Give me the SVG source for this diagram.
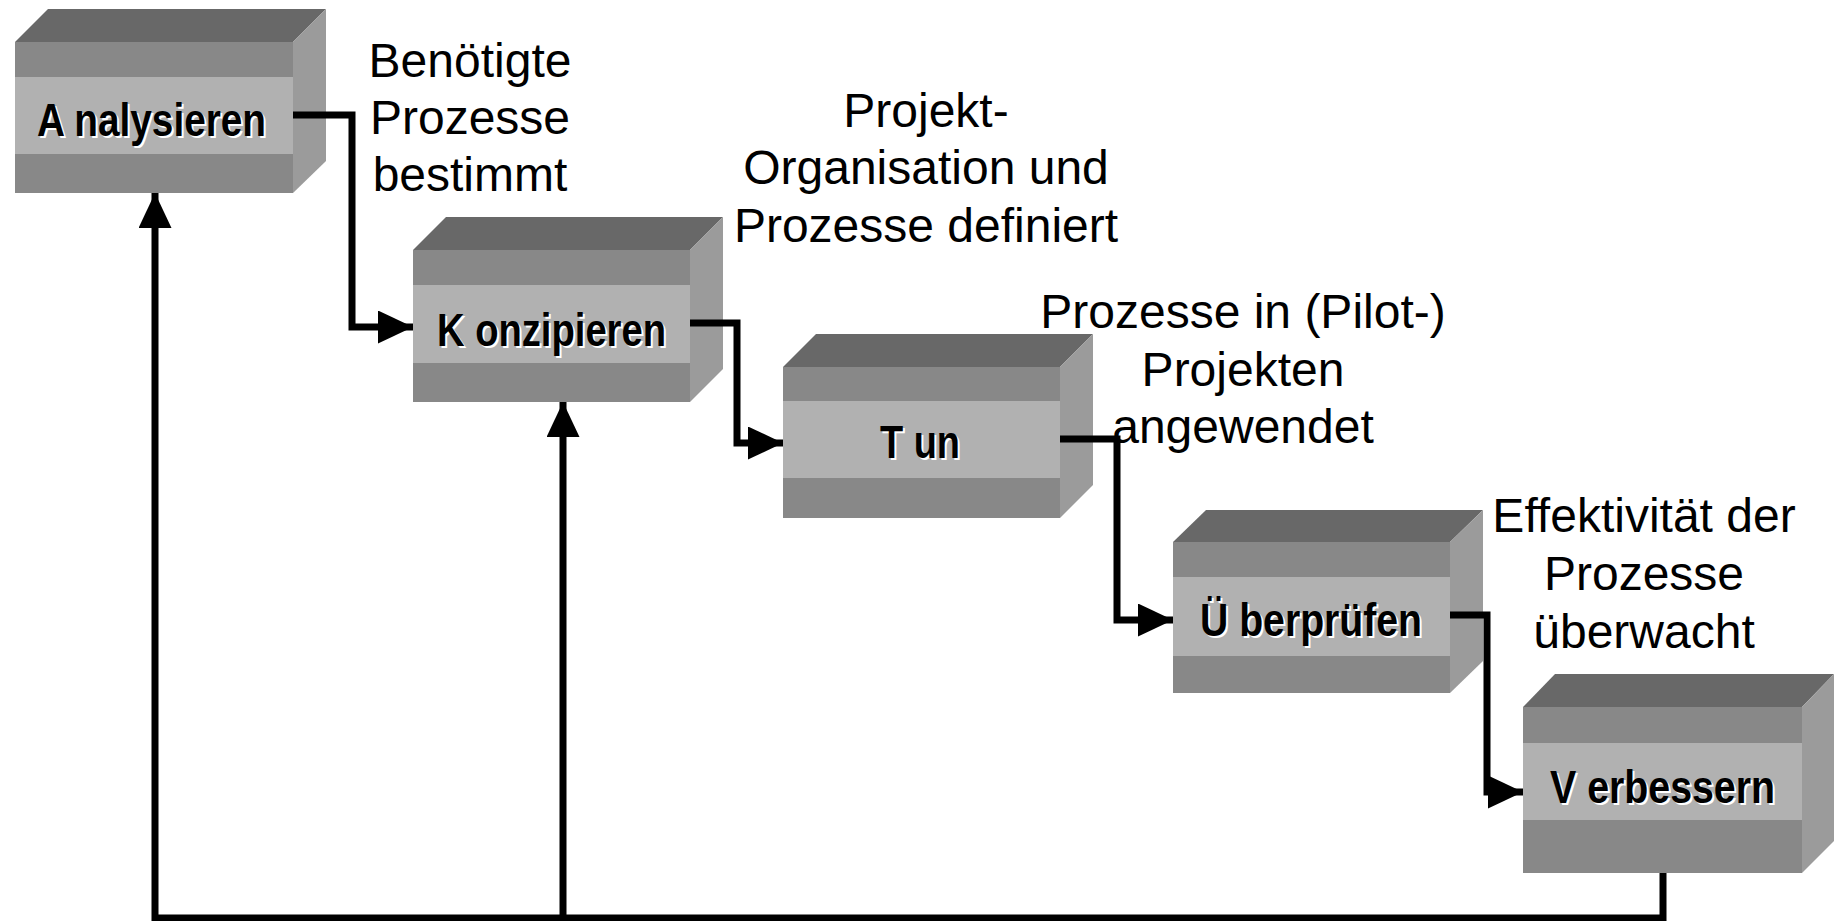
<svg xmlns="http://www.w3.org/2000/svg" width="1838" height="921" viewBox="0 0 1838 921">
  <style>
    .top { fill: #686868; }
    .side { fill: #9b9b9b; }
    .band { fill: #888888; }
    .mid { fill: #b1b1b1; }
    .name { font-family: "Liberation Sans Narrow", "Liberation Sans", Arial, sans-serif; font-weight: bold; font-size: 46px; }
    .name-shadow { fill: #ffffff; }
    .name-text { fill: #000000; }
    .label { font-family: "Liberation Sans", Arial, sans-serif; font-size: 48px; fill: #000000; text-anchor: middle; }
    .wire { fill: none; stroke: #000000; stroke-width: 7; stroke-linejoin: miter; stroke-linecap: butt; }
  </style>
  <defs>
    <marker id="arrow" markerUnits="userSpaceOnUse" markerWidth="36" markerHeight="34" refX="35" refY="16.5" orient="auto">
      <path d="M0,0 L35,16.5 L0,33 Z" fill="#000000"/>
    </marker>
  </defs>
  <rect width="1838" height="921" fill="#ffffff"/>

  <!-- Analysieren -->
  <g id="node-analysieren">
    <polygon class="top" points="15,42 48,9 326,9 293,42"/>
    <polygon class="side" points="293,42 326,9 326,161 293,193"/>
    <rect class="band" x="15" y="42" width="278" height="35"/>
    <rect class="mid" x="15" y="77" width="278" height="77"/>
    <rect class="band" x="15" y="154" width="278" height="39"/>
    <text class="name name-shadow" x="39" y="138" textLength="229" lengthAdjust="spacingAndGlyphs">A nalysieren</text>
    <text class="name name-text" x="37" y="136" textLength="229" lengthAdjust="spacingAndGlyphs">A nalysieren</text>
  </g>

  <!-- Konzipieren -->
  <g id="node-konzipieren">
    <polygon class="top" points="413,250 446,217 723,217 690,250"/>
    <polygon class="side" points="690,250 723,217 723,369 690,402"/>
    <rect class="band" x="413" y="250" width="277" height="35"/>
    <rect class="mid" x="413" y="285" width="277" height="78"/>
    <rect class="band" x="413" y="363" width="277" height="39"/>
    <text class="name name-shadow" x="439" y="348" textLength="229" lengthAdjust="spacingAndGlyphs">K onzipieren</text>
    <text class="name name-text" x="437" y="346" textLength="229" lengthAdjust="spacingAndGlyphs">K onzipieren</text>
  </g>

  <!-- Tun -->
  <g id="node-tun">
    <polygon class="top" points="783,367 816,334 1093,334 1060,367"/>
    <polygon class="side" points="1060,367 1093,334 1093,485 1060,518"/>
    <rect class="band" x="783" y="367" width="277" height="34"/>
    <rect class="mid" x="783" y="401" width="277" height="77"/>
    <rect class="band" x="783" y="478" width="277" height="40"/>
    <text class="name name-shadow" x="882" y="460" textLength="80" lengthAdjust="spacingAndGlyphs">T un</text>
    <text class="name name-text" x="880" y="458" textLength="80" lengthAdjust="spacingAndGlyphs">T un</text>
  </g>

  <!-- Überprüfen -->
  <g id="node-ueberpruefen">
    <polygon class="top" points="1173,542 1206,510 1483,510 1450,542"/>
    <polygon class="side" points="1450,542 1483,510 1483,661 1450,693"/>
    <rect class="band" x="1173" y="542" width="277" height="35"/>
    <rect class="mid" x="1173" y="577" width="277" height="79"/>
    <rect class="band" x="1173" y="656" width="277" height="37"/>
    <text class="name name-shadow" x="1202" y="638" textLength="222" lengthAdjust="spacingAndGlyphs">Ü berprüfen</text>
    <text class="name name-text" x="1200" y="636" textLength="222" lengthAdjust="spacingAndGlyphs">Ü berprüfen</text>
  </g>

  <!-- Verbessern -->
  <g id="node-verbessern">
    <polygon class="top" points="1523,707 1555,674 1834,674 1802,707"/>
    <polygon class="side" points="1802,707 1834,674 1834,841 1802,873"/>
    <rect class="band" x="1523" y="707" width="279" height="36"/>
    <rect class="mid" x="1523" y="743" width="279" height="77"/>
    <rect class="band" x="1523" y="820" width="279" height="53"/>
    <text class="name name-shadow" x="1552" y="805" textLength="225" lengthAdjust="spacingAndGlyphs">V erbessern</text>
    <text class="name name-text" x="1550" y="803" textLength="225" lengthAdjust="spacingAndGlyphs">V erbessern</text>
  </g>

  <!-- Step labels -->
  <g id="labels">
    <text class="label" x="470" y="77">Benötigte</text>
    <text class="label" x="470" y="134">Prozesse</text>
    <text class="label" x="470" y="191">bestimmt</text>

    <text class="label" x="926" y="127">Projekt-</text>
    <text class="label" x="926" y="184">Organisation und</text>
    <text class="label" x="926" y="242">Prozesse definiert</text>

    <text class="label" x="1243" y="328">Prozesse in (Pilot-)</text>
    <text class="label" x="1243" y="386">Projekten</text>
    <text class="label" x="1243" y="443">angewendet</text>

    <text class="label" x="1644" y="532">Effektivität der</text>
    <text class="label" x="1644" y="590">Prozesse</text>
    <text class="label" x="1644" y="648">überwacht</text>
  </g>

  <!-- Connectors -->
  <g id="connectors">
    <path class="wire" d="M293,115 H352 V327 H413" marker-end="url(#arrow)"/>
    <path class="wire" d="M690,323 H737 V443 H783" marker-end="url(#arrow)"/>
    <path class="wire" d="M1060,439 H1117 V620 H1173" marker-end="url(#arrow)"/>
    <path class="wire" d="M1450,615 H1487 V792 H1523" marker-end="url(#arrow)"/>
    <path class="wire" d="M1663,873 V918 H155 V193" marker-end="url(#arrow)"/>
    <path class="wire" d="M563,918 V402" marker-end="url(#arrow)"/>
  </g>
</svg>
